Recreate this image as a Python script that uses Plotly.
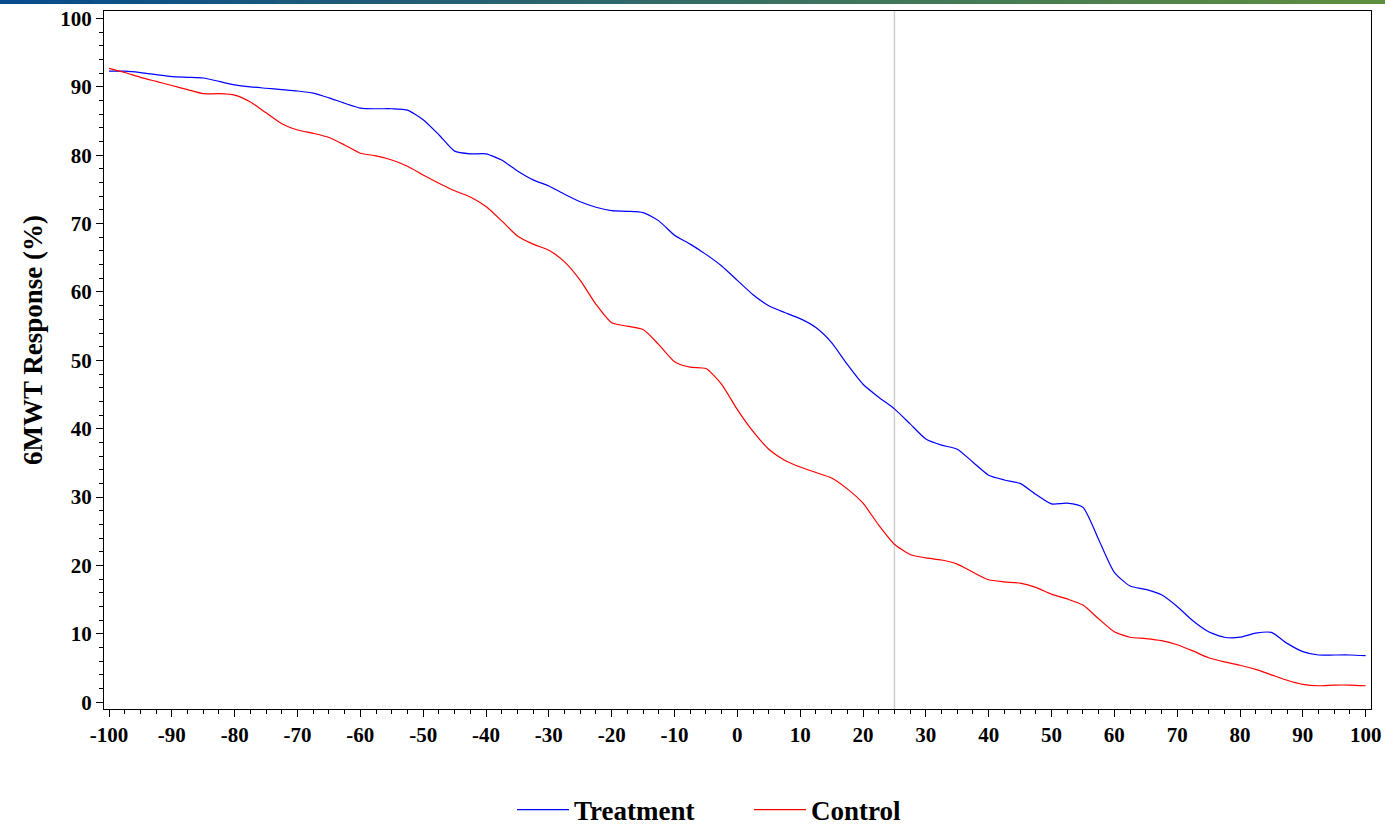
import plotly.graph_objects as go

# Threshold grid (x axis) and response curves (%)
thresholds = [-100 + 2.5 * i for i in range(81)]

treatment = [
    92.3, 92.3, 92.1, 91.8, 91.5, 91.4, 91.3, 90.8, 90.3, 90.0,
    89.8, 89.6, 89.4, 89.1, 88.4, 87.6, 86.9, 86.8, 86.8, 86.6,
    85.2, 83.0, 80.6, 80.2, 80.2, 79.3, 77.7, 76.4, 75.5, 74.3,
    73.2, 72.4, 71.9, 71.8, 71.6, 70.4, 68.3, 67.0, 65.5, 63.8,
    61.7, 59.6, 58.0, 57.0, 56.1, 54.8, 52.6, 49.4, 46.5, 44.6,
    42.9, 40.7, 38.5, 37.6, 37.0, 35.1, 33.2, 32.5, 32.0, 30.4,
    29.0, 29.1, 28.5, 23.8, 19.0, 17.0, 16.5, 15.7, 14.0, 11.9,
    10.3, 9.5, 9.5, 10.1, 10.2, 8.6, 7.4, 6.9, 6.9, 6.9,
    6.8,
]

control = [
    92.7, 92.1, 91.4, 90.8, 90.2, 89.6, 89.0, 89.0, 88.8, 87.8,
    86.2, 84.6, 83.7, 83.2, 82.6, 81.5, 80.3, 79.9, 79.3, 78.4,
    77.1, 75.9, 74.8, 73.9, 72.5, 70.4, 68.2, 67.0, 66.1, 64.4,
    61.7, 58.2, 55.5, 55.0, 54.5, 52.3, 49.8, 49.0, 48.8, 46.5,
    42.8, 39.6, 37.0, 35.4, 34.4, 33.6, 32.8, 31.2, 29.1, 25.9,
    23.1, 21.6, 21.1, 20.8, 20.2, 19.0, 17.9, 17.6, 17.4, 16.8,
    15.8, 15.1, 14.2, 12.2, 10.3, 9.5, 9.3, 9.0, 8.4, 7.5,
    6.5, 5.9, 5.4, 4.8, 4.0, 3.2, 2.6, 2.4, 2.5, 2.5,
    2.4,
]

reference_x = 25
x_ticks = list(range(-100, 101, 10))
x_tick_labels = [str(v) for v in x_ticks]  # plain hyphen minus signs
y_ticks = list(range(0, 101, 10))

FONT = "Liberation Serif"

fig = go.Figure()
fig.add_trace(go.Scatter(
    x=thresholds, y=treatment, mode="lines", name="Treatment",
    line=dict(color="#0000ff", width=1.2, shape="spline", smoothing=0.6),
))
fig.add_trace(go.Scatter(
    x=thresholds, y=control, mode="lines", name="Control",
    line=dict(color="#ff0000", width=1.2, shape="spline", smoothing=0.6),
))

# Vertical reference line
fig.add_shape(type="line", xref="x", yref="paper", x0=reference_x, x1=reference_x,
              y0=0, y1=1, line=dict(color="#cfcfcf", width=1.5), layer="below")

# Header gradient band across the top of the page
W, H = 1385, 827
ml, mr, mt, mb = 104, 14, 11, 118
pw, ph = W - ml - mr, H - mt - mb
c0 = (8, 74, 140)
c1 = (95, 142, 62)
n = 60
for i in range(n):
    f = i / (n - 1)
    col = tuple(round(c0[k] + (c1[k] - c0[k]) * f) for k in range(3))
    xa = (i * W / n - ml) / pw
    xb = ((i + 1) * W / n - ml + 1) / pw
    fig.add_shape(type="rect", xref="paper", yref="paper",
                  x0=xa, x1=xb, y0=1 + (mt - 4) / ph, y1=1 + mt / ph,
                  line=dict(width=0), fillcolor="rgb(%d,%d,%d)" % col)

# Y-axis title
fig.add_annotation(text="6MWT Response (%)", xref="paper", yref="paper",
                   x=(33 - ml) / pw, y=(H - mb - 340) / ph, textangle=-90,
                   showarrow=False, xanchor="center", yanchor="middle",
                   font=dict(family=FONT, size=27, color="black", weight="bold"))

axis_common = dict(
    showgrid=False, zeroline=False, showline=True, linecolor="black",
    linewidth=1.3, mirror=True, ticks="outside", ticklen=7, tickwidth=1.2,
    tickcolor="black",
    tickfont=dict(family=FONT, size=21, color="black", weight="bold"),
)

fig.update_xaxes(range=[-100.8, 100.85], tickvals=x_ticks, ticktext=x_tick_labels,
                 minor=dict(dtick=2.5, ticks="outside", ticklen=4,
                            tickcolor="black", tickwidth=1),
                 **axis_common)
fig.update_yaxes(range=[-1.0, 101.1], tickvals=y_ticks,
                 minor=dict(dtick=2, ticks="outside", ticklen=4,
                            tickcolor="black", tickwidth=1),
                 **axis_common)

fig.update_layout(
    width=W, height=H,
    margin=dict(l=ml, r=mr, t=mt, b=mb, autoexpand=False),
    plot_bgcolor="white", paper_bgcolor="white",
    showlegend=True,
    legend=dict(orientation="h", x=(749 - ml) / pw, xanchor="center",
                y=(H - mb - 810) / ph, yanchor="middle",
                font=dict(family=FONT, size=27, color="black", weight="bold"),
                itemwidth=52, entrywidth=170, bgcolor="rgba(0,0,0,0)"),
)

fig.write_html("out.html")
